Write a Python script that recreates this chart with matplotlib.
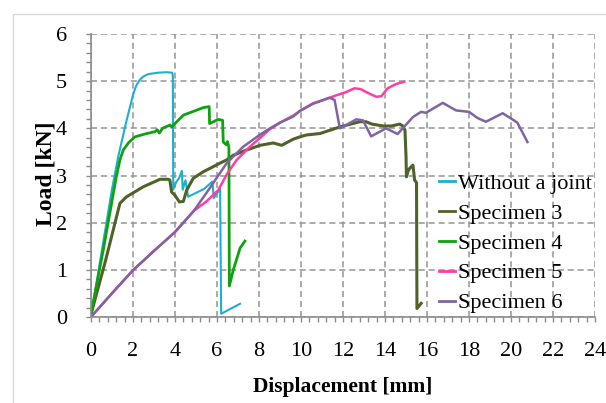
# load_displacement_chart.py

import matplotlib.pyplot as plt
from matplotlib.ticker import MultipleLocator
from matplotlib.patches import Rectangle

# =========================
# DATA
# =========================

no_joint_x = [0.0, 0.5, 1.0, 1.3, 1.7, 2.0, 2.15, 2.33, 2.5, 2.73, 3.2, 3.6,
              3.87, 3.9, 3.92, 4.05, 4.2, 4.33, 4.37, 4.5, 4.63, 5.0, 5.4,
              5.78, 5.85, 6.15, 6.2, 7.1]
no_joint_y = [0.0, 1.35, 2.7, 3.4, 4.17, 4.7, 4.9, 5.03, 5.1, 5.15, 5.18,
              5.19, 5.18, 5.12, 2.7, 2.85, 2.95, 3.1, 2.7, 2.9, 2.55, 2.63,
              2.72, 2.87, 2.52, 2.72, 0.07, 0.28]

spec3_x = [0.0, 0.7, 1.38, 1.7, 2.49, 3.29, 3.68, 3.76, 3.84, 4.0, 4.21, 4.4,
           4.56, 4.87, 5.35, 6.14, 6.46, 6.78, 7.41, 8.05, 8.68, 9.08, 9.63,
           9.95, 10.27, 10.9, 11.86, 12.8, 13.1, 13.37, 13.92, 14.3, 14.7,
           14.85, 14.95, 15.0, 15.02, 15.1, 15.17, 15.33, 15.41, 15.5, 15.52,
           15.72]
spec3_y = [0.05, 1.2, 2.41, 2.55, 2.76, 2.92, 2.92, 2.9, 2.65, 2.58, 2.44,
           2.45, 2.69, 2.94, 3.08, 3.26, 3.33, 3.43, 3.54, 3.64, 3.69, 3.64,
           3.77, 3.82, 3.86, 3.89, 4.03, 4.14, 4.14, 4.09, 4.05, 4.05, 4.09,
           4.05, 3.96, 3.4, 2.97, 3.1, 3.15, 3.22, 2.9, 2.85, 0.18, 0.29]

spec4_x = [0.0, 0.6, 1.2, 1.38, 1.54, 1.8, 2.1, 2.57, 3.05, 3.15, 3.26, 3.41,
           3.76, 3.85, 4.0, 4.4, 5.0, 5.35, 5.63, 5.65, 6.06, 6.27, 6.3, 6.45,
           6.5, 6.57, 6.59, 6.78, 7.1, 7.33]
spec4_y = [0.05, 1.45, 2.95, 3.33, 3.54, 3.7, 3.82, 3.88, 3.93, 3.97, 3.9,
           4.0, 4.07, 4.03, 4.1, 4.28, 4.38, 4.44, 4.46, 4.1, 4.19, 4.17,
           3.71, 3.65, 3.72, 3.6, 0.66, 1.0, 1.46, 1.61]

spec5_x = [0.0, 1.0, 2.0, 3.0, 4.0, 4.9, 5.5, 6.06, 6.5, 6.94, 7.57, 8.52,
           9.0, 9.63, 9.95, 10.57, 11.2, 11.68, 12.15, 12.55, 12.85, 13.1,
           13.58, 13.82, 14.13, 14.53, 14.92]
spec5_y = [0.0, 0.5, 0.99, 1.4, 1.8, 2.25, 2.45, 2.69, 3.05, 3.33, 3.61,
           3.98, 4.12, 4.27, 4.37, 4.53, 4.62, 4.7, 4.77, 4.85, 4.83, 4.77,
           4.67, 4.68, 4.85, 4.94, 4.99]

spec6_x = [0.0, 1.0, 2.0, 3.0, 4.0, 4.9, 5.67, 6.46, 7.25, 8.0, 8.52, 9.0,
           9.63, 9.95, 10.57, 11.05, 11.36, 11.6, 11.85, 12.15, 12.63, 12.95,
           13.34, 14.05, 14.6, 15.33, 15.72, 15.95, 16.75, 17.38, 18.0, 18.4,
           18.8, 19.6, 20.1, 20.3, 20.78]
spec6_y = [0.0, 0.5, 0.99, 1.4, 1.8, 2.25, 2.74, 3.26, 3.61, 3.85, 4.0, 4.12,
           4.25, 4.37, 4.52, 4.6, 4.65, 4.6, 4.0, 4.07, 4.19, 4.17, 3.83, 4.0,
           3.88, 4.24, 4.35, 4.33, 4.54, 4.38, 4.35, 4.22, 4.14, 4.32, 4.18,
           4.12, 3.71]

labels = ["Without a joint", "Specimen 3", "Specimen 4",
          "Specimen 5", "Specimen 6"]

# =========================
# FIGURE
# =========================

plt.rcParams["font.family"] = ["Liberation Serif", "DejaVu Serif"]

fig = plt.figure(figsize=(6.06, 4.03), dpi=100)

# light frame around the chart area
fig.patches.append(
    Rectangle(
        (13 / 606, -0.1), 1.2, 1 - 14 / 403 + 0.1,
        transform=fig.transFigure,
        fill=False,
        edgecolor="#d9d9d9",
        linewidth=1.0
    )
)

ax = fig.add_axes([0.150, 0.2134, 0.832, 0.7022])

# =========================
# LINES
# =========================

ax.plot(no_joint_x, no_joint_y, color="#1bb0ce", lw=1.5, label=labels[0])
ax.plot(spec3_x, spec3_y, color="#4f6228", lw=2.2, label=labels[1])
ax.plot(spec4_x, spec4_y, color="#10a010", lw=2.0, label=labels[2])
ax.plot(spec5_x, spec5_y, color="#ff3ea5", lw=1.8, label=labels[3])
ax.plot(spec6_x, spec6_y, color="#8064a2", lw=1.8, label=labels[4])

# =========================
# AXES
# =========================

ax.set_xlim(0, 24)
ax.set_ylim(0, 6)

ax.xaxis.set_major_locator(MultipleLocator(2))
ax.xaxis.set_minor_locator(MultipleLocator(0.4))
ax.yaxis.set_major_locator(MultipleLocator(1))
ax.yaxis.set_minor_locator(MultipleLocator(0.2))

ax.grid(which="major", color="#959595", linestyle=(0, (4, 2.5)), lw=1.1)

for side in ["top", "right"]:
    ax.spines[side].set_visible(False)

for side in ["left", "bottom"]:
    ax.spines[side].set_color("#8c8c8c")
    ax.spines[side].set_linewidth(1.2)

ax.tick_params(which="both", direction="out", length=3.8, width=1.0,
               color="#8c8c8c")
ax.tick_params(axis="x", which="major", labelsize=16, pad=14.5)
ax.tick_params(axis="y", which="major", labelsize=16, pad=13.5)

ax.set_xlabel("Displacement [mm]", fontsize=15.5, fontweight="bold")
ax.set_ylabel("Load [kN]", fontsize=17, fontweight="bold")
ax.xaxis.set_label_coords(0.5, -0.212)
ax.yaxis.set_label_coords(-0.0675, 0.505)

# =========================
# LEGEND
# =========================

leg = ax.legend(
    loc="upper left",
    bbox_to_anchor=(0.690, 0.508),
    frameon=False,
    fontsize=16,
    handlelength=0.72,
    handletextpad=0.14,
    labelspacing=0.42,
    borderpad=0,
    borderaxespad=0
)

for line in leg.get_lines():
    line.set_linewidth(2.0)

# =========================
# SAVE
# =========================

fig.savefig("out.png", dpi=100)
plt.close()
